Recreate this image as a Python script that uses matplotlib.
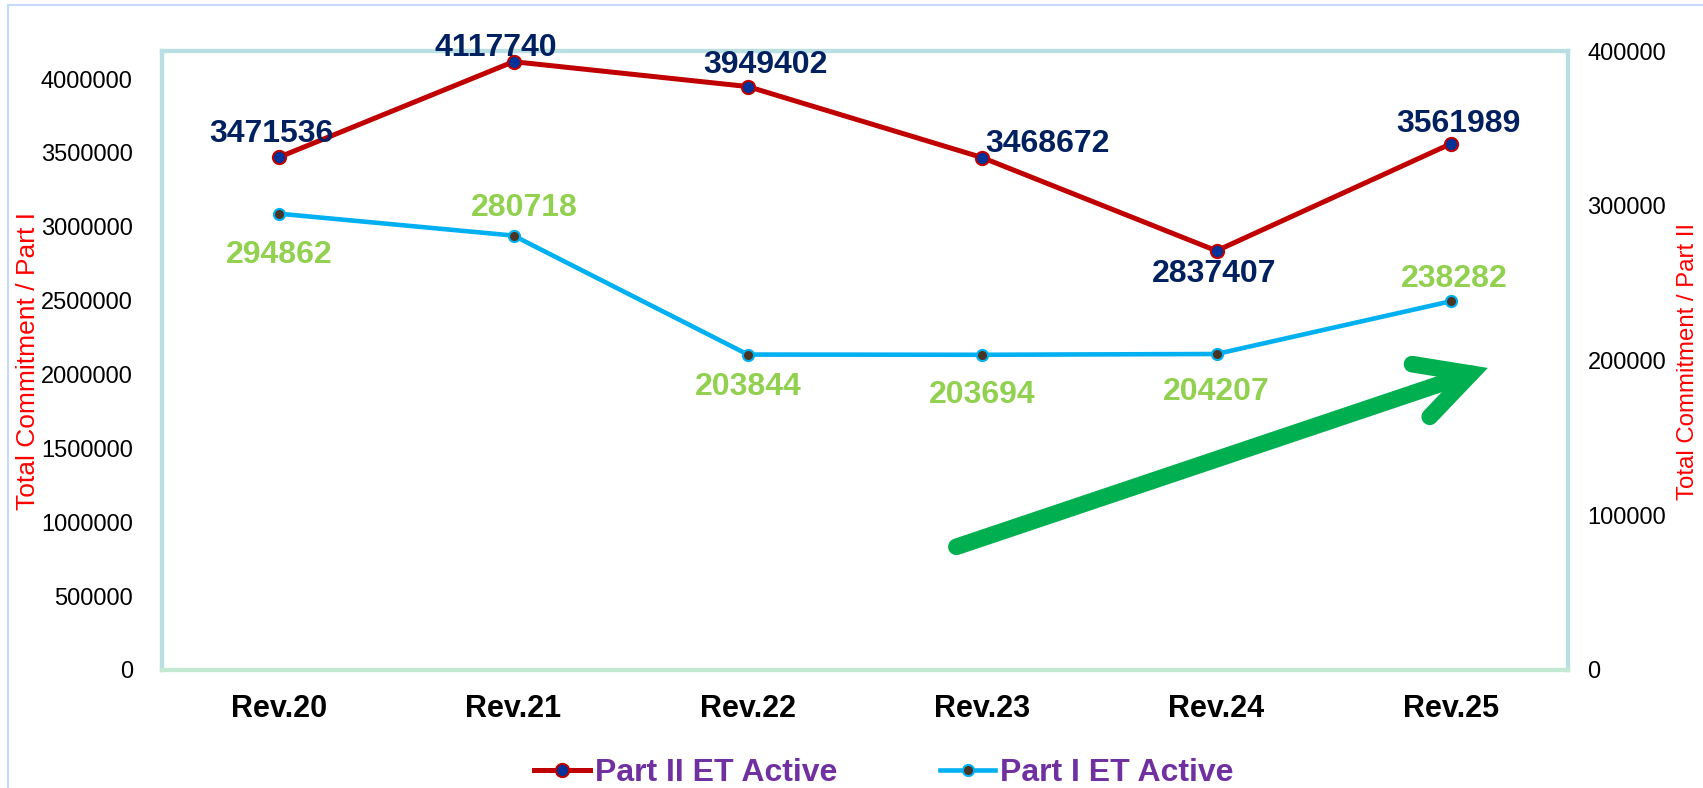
import matplotlib.pyplot as plt
from matplotlib.patches import FancyArrowPatch
from matplotlib.lines import Line2D

plt.rcParams['font.family'] = ['Liberation Sans', 'DejaVu Sans']

revisions = ['Rev.20', 'Rev.21', 'Rev.22', 'Rev.23', 'Rev.24', 'Rev.25']
part2_active = [3471536, 4117740, 3949402, 3468672, 2837407, 3561989]
part1_active = [294862, 280718, 203844, 203694, 204207, 238282]

left_ticks = [0, 500000, 1000000, 1500000, 2000000, 2500000, 3000000, 3500000, 4000000]
right_ticks = [0, 100000, 200000, 300000, 400000]

# label offsets (pixels) so the numbers sit like in the original
red_off = [(-8, 23), (-18, 14), (18, 22), (65, 14), (-2, -23), (8, 20)]
blue_off = [(0, -41), (11, 28), (0, -32), (0, -40), (0, -38), (3, 22)]

W, H = 1703, 788
fig = plt.figure(figsize=(W / 100, H / 100), dpi=100)
ax = fig.add_axes([162 / W, 1 - 670 / H, (1568 - 162) / W, (670 - 51) / H])
ax2 = ax.twinx()

x = list(range(len(revisions)))
line2, = ax.plot(x, part2_active, color='#c00000', lw=3.6, marker='o', ms=9.5,
                 mfc='#003399', mec='#c00000', mew=1.5, label='Part II ET Active')
line1, = ax2.plot(x, part1_active, color='#00b0f0', lw=3.3, marker='o', ms=8,
                  mfc='#4a3424', mec='#00b0f0', mew=1.5, label='Part I ET Active')

ax.set_xlim(-0.5, 5.5)
ax.set_ylim(0, 4190000)
ax2.set_ylim(0, 400000)
ax.set_yticks(left_ticks)
ax.set_yticklabels([str(t) for t in left_ticks])
ax2.set_yticks(right_ticks)
ax2.set_yticklabels([str(t) for t in right_ticks])
ax.set_xticks(x)
ax.set_xticklabels(revisions, fontsize=22, fontweight='bold')

ax.tick_params(axis='y', length=0, labelsize=17, pad=21)
ax2.tick_params(axis='y', length=0, labelsize=17, pad=14)
ax.tick_params(axis='x', length=0, pad=17)

for a in (ax, ax2):
    for s in a.spines.values():
        s.set_color('#b9dfe2')
        s.set_linewidth(3)
    a.spines['bottom'].set_color('#c3e9d3')

# all value labels go on the top axes so the frame does not cover them
for i, v in enumerate(part2_active):
    ax2.annotate(str(v), (x[i], v), xycoords=ax.transData, xytext=red_off[i],
                 textcoords='offset pixels', ha='center', va='center',
                 fontsize=23, fontweight='bold', color='#002060', zorder=5)
for i, v in enumerate(part1_active):
    ax2.annotate(str(v), (x[i], v), xytext=blue_off[i], textcoords='offset pixels',
                 ha='center', va='center', fontsize=23, fontweight='bold',
                 color='#92d050', zorder=5)

fig.text(28 / W, 1 - 361 / H, 'Total Commitment / Part I', rotation=90, color='#ff0000',
         fontsize=19, ha='center', va='center')
fig.text(1688 / W, 1 - 362 / H, 'Total Commitment / Part II', rotation=90, color='#ff0000',
         fontsize=17.3, ha='center', va='center')

arrow = FancyArrowPatch((0.565, 0.199), (0.943, 0.488), transform=ax.transAxes,
                        arrowstyle='->,head_length=0.95,head_width=0.5', mutation_scale=40,
                        lw=12, color='#00b050', capstyle='round', joinstyle='miter',
                        shrinkA=0, shrinkB=0)
ax2.add_patch(arrow)

fig.legend(handles=[line2, line1], loc='center', bbox_to_anchor=(884 / W, 1 - 773 / H),
           ncol=2, frameon=False, handlelength=1.75, handletextpad=0.15, columnspacing=3.2,
           prop={'weight': 'bold', 'size': 23}, labelcolor='#7030a0')

# thin blue outline of the slide box
fig.add_artist(Line2D([8 / W, 8 / W], [0, 1 - 5 / H], color='#c6d9fa', lw=1.5))
fig.add_artist(Line2D([8 / W, 1], [1 - 5 / H, 1 - 5 / H], color='#c6d9fa', lw=1.5))

fig.savefig('out.png', dpi=100, facecolor='white')
